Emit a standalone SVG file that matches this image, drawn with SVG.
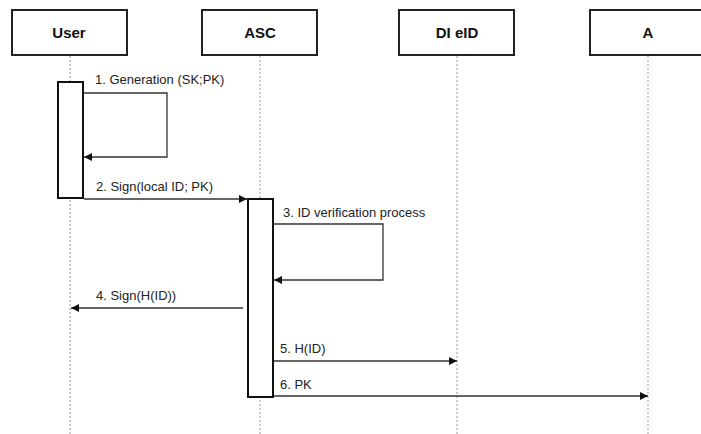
<svg xmlns="http://www.w3.org/2000/svg" width="701" height="434" viewBox="0 0 701 434">
<style>
.hdr{fill:#fff;stroke:#222;stroke-width:2}
.ht{font-family:"Liberation Sans",Arial,sans-serif;font-weight:bold;font-size:15px;fill:#111;text-anchor:middle}
.life{stroke:#999;stroke-width:1;stroke-dasharray:2,2}
.act{fill:#fff;stroke:#111;stroke-width:2}
.msg{fill:none;stroke:#333;stroke-width:1.3}
.lbl{font-family:"Liberation Sans",Arial,sans-serif;font-size:13px;fill:#222}
</style>
<defs>
<marker id="ah" viewBox="0 0 10 10" refX="10" refY="5" markerWidth="8" markerHeight="8" markerUnits="userSpaceOnUse" orient="auto">
<path d="M0,0 L10,5 L0,10 z" fill="#111"/>
</marker>
</defs>
<g id="lifelines">
<line class="life" x1="70" y1="56" x2="70" y2="434"/>
<line class="life" x1="260" y1="56" x2="260" y2="434"/>
<line class="life" x1="457" y1="56" x2="457" y2="434"/>
<line class="life" x1="648" y1="56" x2="648" y2="434"/>
</g>
<g id="node-user"><rect class="hdr" x="12" y="10" width="115" height="45"/><text class="ht" x="69" y="38">User</text></g>
<g id="node-asc"><rect class="hdr" x="202" y="10" width="115" height="45"/><text class="ht" x="260" y="38">ASC</text></g>
<g id="node-dieid"><rect class="hdr" x="399" y="10" width="115" height="45"/><text class="ht" x="457" y="38">DI eID</text></g>
<g id="node-a"><rect class="hdr" x="590" y="10" width="118" height="45"/><text class="ht" x="648" y="38">A</text></g>
<g id="act-user"><rect class="act" x="58" y="82" width="25" height="116"/></g>
<g id="act-asc"><rect class="act" x="248" y="199" width="25" height="198"/></g>
<g id="connectors">
<polyline class="msg" points="84,93 167,93 167,157 84,157" marker-end="url(#ah)"/>
<line class="msg" x1="84" y1="199" x2="247" y2="199" marker-end="url(#ah)"/>
<polyline class="msg" points="274,224 383,224 383,280 274,280" marker-end="url(#ah)"/>
<line class="msg" x1="243" y1="308" x2="71" y2="308" marker-end="url(#ah)"/>
<line class="msg" x1="274" y1="361" x2="457" y2="361" marker-end="url(#ah)"/>
<line class="msg" x1="274" y1="396" x2="648" y2="396" marker-end="url(#ah)"/>
</g>
<g id="labels">
<text class="lbl" x="95" y="84">1. Generation (SK;PK)</text>
<text class="lbl" x="96" y="191">2. Sign(local ID; PK)</text>
<text class="lbl" x="283" y="217">3. ID verification process</text>
<text class="lbl" x="96" y="300">4. Sign(H(ID))</text>
<text class="lbl" x="280" y="353">5. H(ID)</text>
<text class="lbl" x="280" y="389">6. PK</text>
</g>
</svg>
